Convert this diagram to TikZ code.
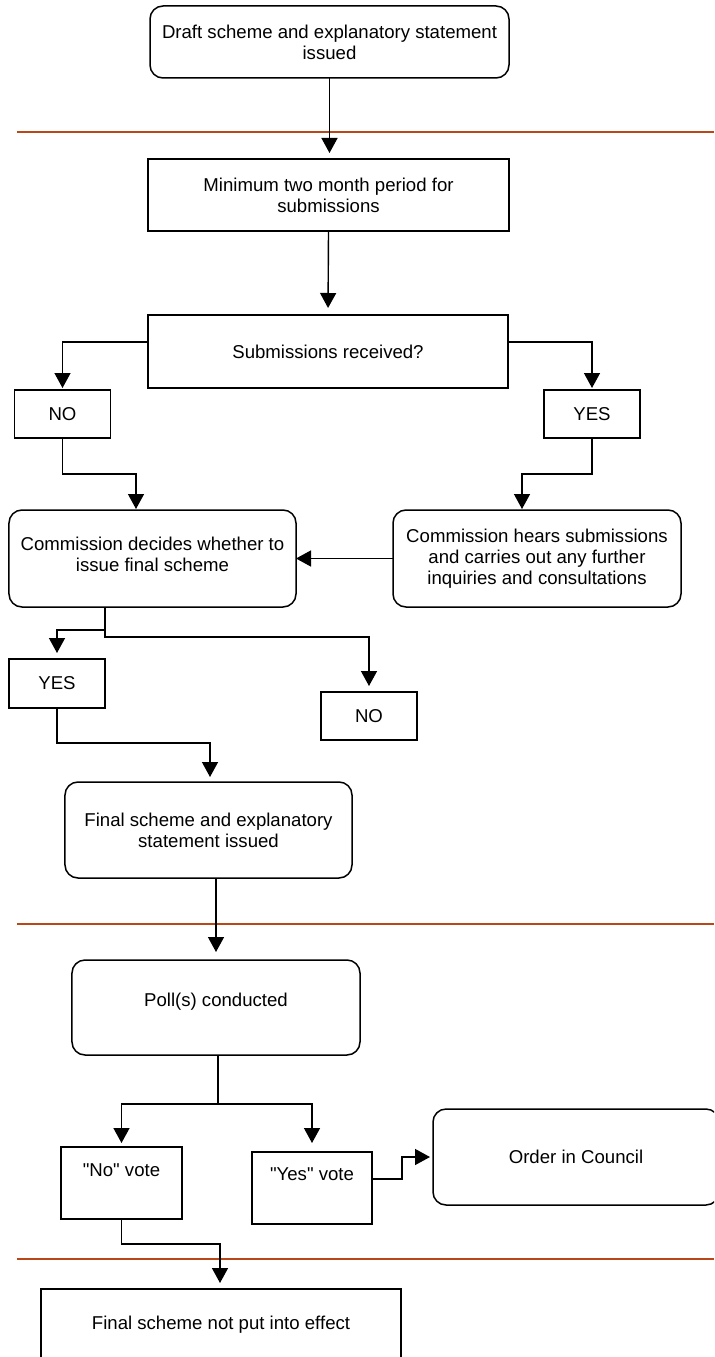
\documentclass[tikz,border=0pt]{standalone}
\usepackage{fontspec}
\setmainfont{Liberation Sans}
\newfontfamily\qfont{Liberation Sans}
\usetikzlibrary{arrows.meta,calc}
\definecolor{sepcol}{RGB}{184,72,24}
\newcommand{\fsz}{\fontsize{18.6bp}{21bp}\selectfont}
\newcommand{\sq}{{\qfont"}}
\begin{document}
\begin{tikzpicture}[x=1bp,y=-1bp,
  box/.style={draw, line width=1.5bp, inner sep=0pt, outer sep=0pt, align=center, font=\fsz},
  rbox/.style={box, rounded corners=13bp},
  wh/.style 2 args={minimum width=#1bp, minimum height=#2bp},
  txt/.style={inner sep=0pt, align=center, font=\fsz},
  arr/.style={line width=1.4bp, -{Triangle[length=15bp,width=16bp]}},
  sepline/.style={draw=sepcol, line width=1.8bp}]
\fill[white] (0,0) rectangle (714,1357);
\useasboundingbox (0,0) rectangle (714,1357);
\clip (0,0) rectangle (714,1357);

% separators
\draw[sepline] (17,132) -- (714,132);
\draw[sepline] (17,924) -- (714,924);
\draw[sepline] (17,1259) -- (714,1259);

% nodes
\node[rbox, wh={359}{72}] (b1) at (329.5,42) {Draft scheme and explanatory statement\\issued};
\node[box, wh={361}{72}] (b2) at (328.5,195) {Minimum two month period for\\submissions};
\node[box, wh={360}{73}] (b3) at (328,351.5) {Submissions received?};
\node[box, wh={96}{48}] (no1) at (62.5,414) {NO};
\node[box, wh={96}{48}] (yes1) at (592,414) {YES};
\node[rbox, wh={287}{97}] (dec) at (152.5,558.5) {};
\node[txt] (dect) at (152.5,554.5) {Commission decides whether to\\issue final scheme};
\node[rbox, wh={288}{97}] (hear) at (537,558.5) {Commission hears submissions\\and carries out any further\\inquiries and consultations};
\node[box, wh={96}{49}] (yes2) at (57,683.5) {YES};
\node[box, wh={96}{48}] (no2) at (369,716) {NO};
\node[rbox, wh={287}{96}] (fin) at (208.5,830) {Final scheme and explanatory\\statement issued};
\node[rbox, wh={288}{95}] (poll) at (216,1007.5) {};
\node[txt] (pollt) at (216,1001.5) {Poll(s) conducted};
\node[box, wh={121}{72}] (nov) at (121.5,1183) {};
\node[txt] (novt) at (121.5,1170) {\sq No\sq{} vote};
\node[box, wh={120}{72}] (yesv) at (312,1188) {};
\node[txt] (yesvt) at (312,1174) {\sq Yes\sq{} vote};
\node[rbox, wh={286}{96}] (order) at (576,1157) {Order in Council};
\node[box, wh={360}{72}] (finnot) at (221,1325) {Final scheme not put into effect};

% connectors
\draw[arr, shorten >=6bp] (b1.south) -- (b1.south |- b2.north);
\draw[arr, shorten >=7bp] (b2.south) -- (b3.north);
\draw[arr, shorten >=2bp] (b3.west |- 0,342) -| (no1.north);
\draw[arr, shorten >=2bp] (b3.east |- 0,342) -| (yes1.north);
\draw[arr, shorten >=1bp] (no1.south) -- ++(0,36) -| (dec.north -| 136,0);
\draw[arr, shorten >=1bp] (yes1.south) -- ++(0,36) -| (hear.north -| 522,0);
\draw[arr] (hear.west) -- (dec.east);
\draw[arr, shorten >=6bp] (dec.south -| 105,0) -- (105,630) -| (yes2.north);
\draw[arr, shorten >=6bp] (dec.south -| 105,0) -- (105,637) -| (no2.north);
\draw[arr, shorten >=5bp] (yes2.south) -- ++(0,35) -| (fin.north -| 210,0);
\draw[arr, shorten >=8bp] (fin.south -| poll.north) -- (poll.north);
\draw[arr, shorten >=4bp] (poll.south -| 218,0) -- (218,1104) -| (nov.north);
\draw[arr, shorten >=9bp] (poll.south -| 218,0) -- (218,1104) -| (yesv.north);
\draw[arr, shorten >=3bp] (yesv.east |- 0,1179) -- ++(30,0) |- (order.west);
\draw[arr, shorten >=6bp] (nov.south) -- ++(0,25) -| (finnot.north -| 220,0);
\end{tikzpicture}
\end{document}
